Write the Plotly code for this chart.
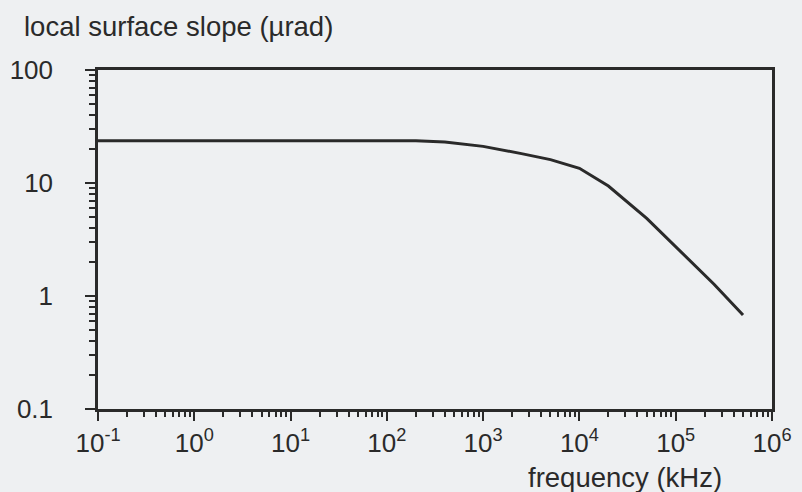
import plotly.graph_objects as go

# Data
frequency_khz = [0.1, 1, 10, 100, 200, 400, 1000, 2500, 5000, 10000, 20000, 50000, 100000, 250000, 500000]
slope_urad = [23.7, 23.7, 23.7, 23.7, 23.6, 23.0, 21.1, 18.2, 16.1, 13.5, 9.4, 4.87, 2.75, 1.27, 0.68]

x_tickvals = [0.1, 1, 10, 100, 1000, 10000, 100000, 1000000]
x_ticktext = ["10<sup>-1</sup>", "10<sup>0</sup>", "10<sup>1</sup>", "10<sup>2</sup>",
              "10<sup>3</sup>", "10<sup>4</sup>", "10<sup>5</sup>", "10<sup>6</sup>"]
y_tickvals = [0.1, 1, 10, 100]
y_ticktext = ["0.1", "1", "10", "100"]

y_title = "local surface slope (µrad)"
x_title = "frequency (kHz)"

minor_x = [k * 10 ** e for e in range(-1, 6) for k in range(2, 10)]
minor_y = [k * 10 ** e for e in range(-1, 2) for k in range(2, 10)]

INK = "#2a2a2a"
BG = "#eef0f2"
FONT = "Liberation Sans, Arial, Helvetica, sans-serif"
TICK_SIZE = 26
TITLE_SIZE = 27.5

fig = go.Figure()
fig.add_trace(go.Scatter(x=frequency_khz, y=slope_urad, mode="lines",
                         line=dict(color=INK, width=3),
                         showlegend=False, hoverinfo="skip"))

fig.update_layout(
    width=802, height=492,
    margin=dict(l=98, r=30, t=70, b=83),
    paper_bgcolor=BG, plot_bgcolor=BG,
    font=dict(family=FONT, size=TICK_SIZE, color=INK),
    showlegend=False,
)

fig.update_xaxes(
    type="log", range=[-1, 6], automargin=False,
    tickmode="array", tickvals=x_tickvals, ticktext=x_ticktext,
    ticks="outside", ticklen=9, tickwidth=2, tickcolor=INK,
    showline=True, linecolor=INK, linewidth=2.5, mirror=True,
    showgrid=False, zeroline=False,
    tickfont=dict(size=TICK_SIZE, color=INK),
    minor=dict(tickmode="array", tickvals=minor_x, ticks="outside",
               ticklen=5, tickwidth=2, tickcolor=INK, showgrid=False),
)
fig.update_yaxes(
    type="log", range=[-1, 2], automargin=False,
    tickmode="array", tickvals=y_tickvals, ticktext=y_ticktext,
    ticks="outside", ticklen=10, tickwidth=2, tickcolor=INK,
    showline=True, linecolor=INK, linewidth=2.5, mirror=True,
    showgrid=False, zeroline=False,
    tickfont=dict(size=TICK_SIZE, color=INK),
    ticklabelstandoff=27,
    minor=dict(tickmode="array", tickvals=minor_y, ticks="outside",
               ticklen=6, tickwidth=2, tickcolor=INK, showgrid=False),
)

fig.add_annotation(text=y_title, xref="paper", yref="paper",
                   x=(22 - 98) / 674, y=1 + (70 - 27) / 339, xanchor="left", yanchor="middle",
                   showarrow=False, font=dict(size=TITLE_SIZE, color=INK, family=FONT))
fig.add_annotation(text=x_title, xref="paper", yref="paper",
                   x=(625 - 98) / 674, y=-(477 - 409) / 339, xanchor="center", yanchor="middle",
                   showarrow=False, font=dict(size=TITLE_SIZE, color=INK, family=FONT))

fig.write_html("out.html", config={"displayModeBar": False},
               post_script="document.body.style.margin='0';document.body.style.background='%s';" % BG)
